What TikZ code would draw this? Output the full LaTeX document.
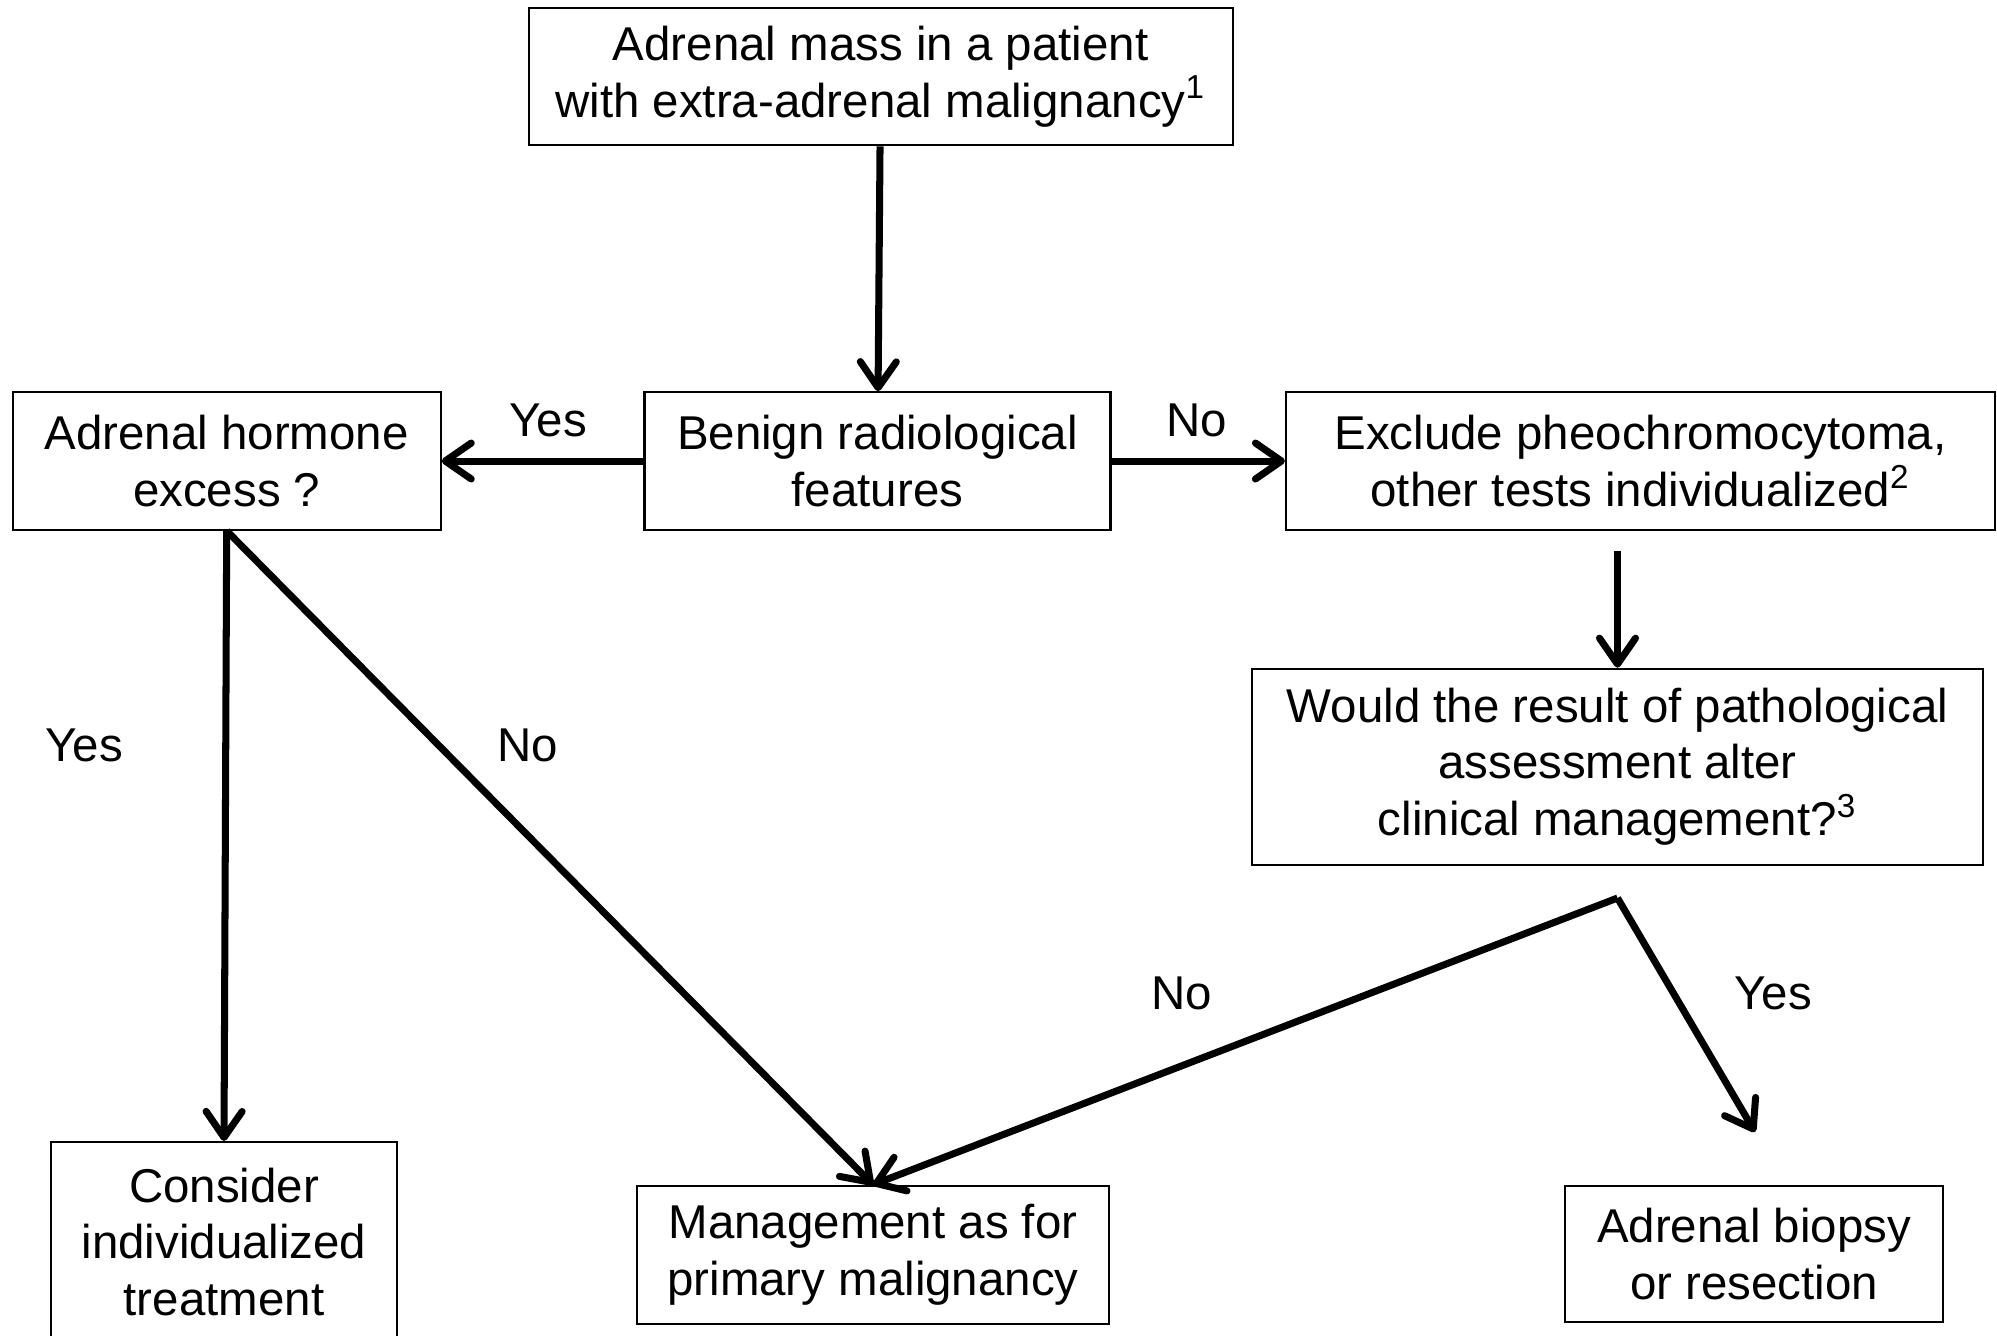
\documentclass[tikz,border=0pt]{standalone}
\usepackage{fontspec}
\setmainfont{Liberation Sans}
\usetikzlibrary{arrows.meta}

\begin{document}
\begin{tikzpicture}[
    box/.style={draw, line width=0.6pt, align=center, inner sep=0pt, font=\fontsize{13.5}{16.2}\selectfont},
    arr/.style={line width=2pt, -{Straight Barb[length=2.6mm,width=3.6mm,round]}},
    lbl/.style={font=\fontsize{13.5}{16.2}\selectfont}]
    \clip (0,0) rectangle (19.97,-13.35);

    \node[box, minimum width=7.04cm, minimum height=1.376cm] (mass) at (8.806,-0.764) {Adrenal mass in a patient\\with extra-adrenal malignancy\textsuperscript{1}};
    \node[box, minimum width=4.28cm, minimum height=1.375cm] (hormone) at (2.267,-4.61) {Adrenal hormone\\excess ?};
    \node[box, minimum width=4.66cm, minimum height=1.375cm] (benign) at (8.775,-4.61) {Benign radiological\\features};
    \node[box, minimum width=7.09cm, minimum height=1.375cm] (exclude) at (16.405,-4.61) {Exclude pheochromocytoma,\\other tests individualized\textsuperscript{2}};
    \node[box, minimum width=7.31cm, minimum height=1.96cm] (would) at (16.175,-7.667) {Would the result of pathological\\assessment alter\\clinical management?\textsuperscript{3}};
    \node[box, minimum width=3.46cm, minimum height=2.0cm] (consider) at (2.24,-12.42) {Consider\\individualized\\treatment};
    \node[box, minimum width=4.72cm, minimum height=1.385cm] (primary) at (8.73,-12.55) {Management as for\\primary malignancy};
    \node[box, minimum width=3.78cm, minimum height=1.36cm] (biopsy) at (17.54,-12.54) {Adrenal biopsy\\or resection};

    \coordinate (exc_out) at (16.175,-5.51);
    \coordinate (split) at (16.175,-8.98);
    \coordinate (bio_in) at (17.55,-11.32);

    \draw[arr] (mass) -- (benign);
    \draw[arr] (benign) -- (hormone);
    \draw[arr] (benign) -- (exclude);
    \draw[arr] (exc_out) -- (would);
    \draw[arr] (hormone.south) -- (consider.north);
    \draw[arr] (hormone.south) -- (primary.north);
    \draw[arr] (split) -- (primary.north);
    \draw[arr] (split) -- (bio_in);

    \node[lbl] (yes1) at (5.48,-4.2) {Yes};
    \node[lbl] (no1) at (11.97,-4.2) {No};
    \node[lbl] (yes2) at (0.84,-7.45) {Yes};
    \node[lbl] (no2) at (5.28,-7.45) {No};
    \node[lbl] (no3) at (11.82,-9.93) {No};
    \node[lbl] (yes3) at (17.73,-9.93) {Yes};
\end{tikzpicture}
\end{document}
